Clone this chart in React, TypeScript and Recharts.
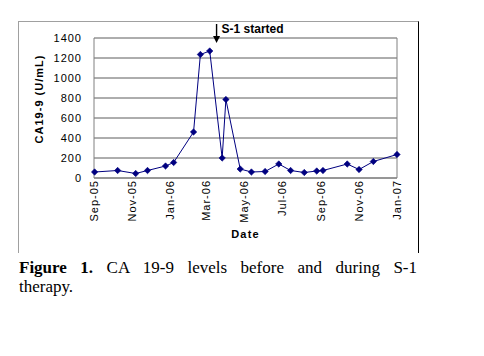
import React from 'react';
import { LineChart, Line, XAxis, YAxis, CartesianGrid, ReferenceLine } from 'recharts';

const sampleDates = [
  '2005-09-02', '2005-10-09', '2005-11-07', '2005-11-26', '2005-12-25', '2006-01-07',
  '2006-02-08', '2006-02-19', '2006-03-06', '2006-03-26', '2006-04-01', '2006-04-24',
  '2006-05-12', '2006-06-03', '2006-06-25', '2006-07-14', '2006-08-05', '2006-08-25',
  '2006-09-04', '2006-10-13', '2006-11-01', '2006-11-24', '2007-01-01',
];
const ca199Values = [
  60, 75, 45, 75, 120, 155,
  460, 1235, 1270, 200, 785, 90,
  60, 65, 140, 75, 55, 70,
  75, 140, 85, 165, 235,
];
const xTickDates = [
  '2005-09-01', '2005-11-01', '2006-01-01', '2006-03-01', '2006-05-01',
  '2006-07-01', '2006-09-01', '2006-11-01', '2007-01-01',
];
const yTicks = [0, 200, 400, 600, 800, 1000, 1200, 1400];
const monthNames = ['Jan', 'Feb', 'Mar', 'Apr', 'May', 'Jun', 'Jul', 'Aug', 'Sep', 'Oct', 'Nov', 'Dec'];
const therapyStartDate = '2006-03-17';
const annotationText = 'S-1 started';
const annotationRange = [1540, 1350];
const yAxisTitle = 'CA19-9 (U/mL)';
const xAxisTitle = 'Date';
const captionBold = 'Figure 1.';
const captionLine1 = 'CA 19-9 levels before and during S-1';
const captionLine2 = 'therapy.';

const toTime = (s: string) => {
  const [y, m, d] = s.split('-').map(Number);
  return Date.UTC(y, m - 1, d);
};
const fmtMonth = (t: number) => {
  const d = new Date(t);
  return `${monthNames[d.getUTCMonth()]}-${String(d.getUTCFullYear() % 100).padStart(2, '0')}`;
};

const data = sampleDates.map((d, i) => ({ t: toTime(d), v: ca199Values[i] }));
const xTicks = xTickDates.map(toTime);
const xDomain = [xTicks[0], xTicks[xTicks.length - 1]];
const startT = toTime(therapyStartDate);

const SANS = "Arial, 'Liberation Sans', sans-serif";
const NAVY = '#000080';

const Diamond = (props: any) => {
  const { cx, cy, index } = props;
  if (cx == null || cy == null) return null;
  const r = 3.2;
  return (
    <polygon
      key={`d-${index}`}
      points={`${cx},${cy - r} ${cx + r},${cy} ${cx},${cy + r} ${cx - r},${cy}`}
      fill={NAVY}
      stroke={NAVY}
      strokeWidth={0.6}
    />
  );
};

const XTick = (props: any) => {
  const { x, y, payload } = props;
  return (
    <text
      x={x}
      y={y}
      transform={`rotate(-90 ${x} ${y})`}
      textAnchor="end"
      dy="0.35em"
      fontFamily={SANS}
      fontSize={11}
      letterSpacing={1}
      fill="#000"
    >
      {fmtMonth(payload.value)}
    </text>
  );
};

const YTick = (props: any) => {
  const { x, y, payload } = props;
  return (
    <text x={x} y={y} textAnchor="end" dy="0.36em" fontFamily={SANS} fontSize={11} letterSpacing={1} fill="#000">
      {payload.value}
    </text>
  );
};

const ArrowShape = (props: any) => {
  const { x1, y1, x2, y2 } = props;
  return (
    <g>
      <line x1={x1} y1={y1} x2={x2} y2={y2 - 6} stroke="#000" strokeWidth={1.4} />
      <polygon points={`${x2 - 3.5},${y2 - 7} ${x2 + 3.5},${y2 - 7} ${x2},${y2}`} fill="#000" />
      <text x={x1 + 5} y={y1 + 8.5} fontFamily={SANS} fontSize={12} fontWeight="bold" fill="#000">
        {annotationText}
      </text>
    </g>
  );
};

const captionStyle: React.CSSProperties = {
  fontFamily: "'Liberation Serif', 'Times New Roman', serif",
  fontSize: 17,
  lineHeight: '19px',
  color: '#000',
};

export default function App() {
  return (
    <div style={{ position: 'absolute', left: 0, top: 0, width: 484, height: 356, background: '#fff' }}>
      <div
        style={{
          position: 'absolute',
          left: 18,
          top: 21,
          width: 399,
          height: 231,
          borderLeft: '1px solid #a0a0a0',
          borderTop: '1px solid #a0a0a0',
          borderRight: '1px solid #000',
        }}
      />
      <div style={{ position: 'absolute', left: 0, top: 0 }}>
        <LineChart width={484} height={260} data={data} margin={{ top: 38, right: 87, bottom: 22, left: 34 }}>
          <CartesianGrid vertical={false} stroke="#5c5c5c" strokeWidth={1} />
          <XAxis
            dataKey="t"
            type="number"
            domain={xDomain}
            ticks={xTicks}
            interval={0}
            height={60}
            tick={<XTick />}
            tickLine={false}
            tickSize={0}
            tickMargin={2}
            axisLine={{ stroke: '#808080' }}
            label={(p: any) => {
              const vb = p.viewBox || {};
              return (
                <text
                  x={vb.x + vb.width / 2}
                  y={vb.y + vb.height}
                  textAnchor="middle"
                  fontFamily={SANS}
                  fontSize={11}
                  fontWeight="bold"
                  letterSpacing={1.2}
                  fill="#000"
                >
                  {xAxisTitle}
                </text>
              );
            }}
          />
          <YAxis
            type="number"
            domain={[0, 1400]}
            ticks={yTicks}
            interval={0}
            width={60}
            tick={<YTick />}
            tickLine={false}
            tickSize={4}
            tickMargin={8}
            axisLine={{ stroke: '#808080' }}
            label={(p: any) => {
              const vb = p.viewBox || {};
              const cx = vb.x + 5;
              const cy = vb.y + vb.height / 2 - 9;
              return (
                <text
                  x={cx}
                  y={cy}
                  transform={`rotate(-90 ${cx} ${cy})`}
                  textAnchor="middle"
                  dy="0.35em"
                  fontFamily={SANS}
                  fontSize={11}
                  fontWeight="bold"
                  letterSpacing={1}
                  fill="#000"
                >
                  {yAxisTitle}
                </text>
              );
            }}
          />
          <ReferenceLine x={xDomain[1]} stroke="#808080" ifOverflow="visible" />
          <ReferenceLine
            segment={[
              { x: startT, y: annotationRange[0] },
              { x: startT, y: annotationRange[1] },
            ]}
            ifOverflow="visible"
            shape={ArrowShape}
          />
          <Line
            type="linear"
            dataKey="v"
            stroke={NAVY}
            strokeWidth={1}
            dot={Diamond}
            activeDot={false}
            isAnimationActive={false}
          />
        </LineChart>
      </div>
      <div style={{ position: 'absolute', left: 19, top: 258, width: 398 }}>
        <div style={{ ...captionStyle, textAlign: 'justify', textAlignLast: 'justify' } as React.CSSProperties}>
          <b>{captionBold}</b> {captionLine1}
        </div>
        <div style={captionStyle}>{captionLine2}</div>
      </div>
    </div>
  );
}
